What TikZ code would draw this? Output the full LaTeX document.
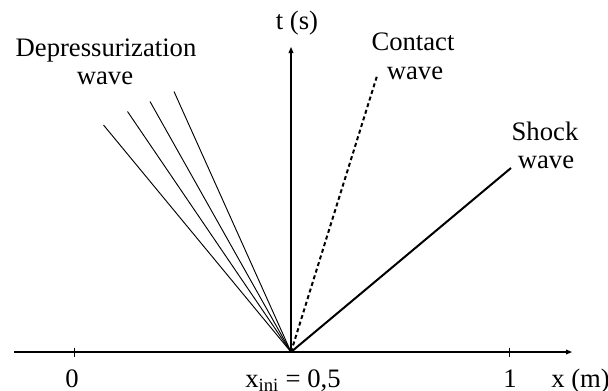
\documentclass[tikz,border=0pt]{standalone}
\usepackage{fontspec}
\setmainfont{Liberation Serif}
\usetikzlibrary{arrows.meta}
\begin{document}
\begin{tikzpicture}[x=0.75pt,y=-0.75pt,
  lbl/.style={font=\fontsize{20}{21}\selectfont, inner sep=0pt, anchor=base},
  axisline/.style={line width=0.8pt, -{Triangle[length=4.5pt,width=3.6pt]}},
  tick/.style={line width=1pt},
  fan/.style={line width=0.7pt},
  shockline/.style={line width=1.5pt},
  contactline/.style={line width=1.5pt, dash pattern=on 3pt off 2.2pt}]
\useasboundingbox (0,0) rectangle (608,390);
\coordinate (O) at (291,352);
\coordinate (xs) at (14,352);
\coordinate (xe) at (572,352);
\coordinate (te) at (291,47);
\coordinate (f1) at (103.5,125);
\coordinate (f2) at (127.5,111.5);
\coordinate (f3) at (150,101.5);
\coordinate (f4) at (174,91.5);
\coordinate (c1) at (377,76);
\coordinate (s1) at (511,168);
\coordinate (k0a) at (74.5,347.5);
\coordinate (k0b) at (74.5,357);
\coordinate (k1a) at (509.5,347.5);
\coordinate (k1b) at (509.5,357);
% axes
\draw[axisline] (xs) -- (xe);
\draw[axisline] (O) -- (te);
\draw[tick] (k0a) -- (k0b);
\draw[tick] (k1a) -- (k1b);
% waves
\draw[fan] (O) -- (f1);
\draw[fan] (O) -- (f2);
\draw[fan] (O) -- (f3);
\draw[fan] (O) -- (f4);
\draw[contactline] (O) -- (c1);
\draw[shockline] (O) -- (s1);
% labels
\node[lbl] (l0) at (72,387) {0};
\node[lbl] (l1) at (510,387) {1};
\node[lbl] (lxini) at (293,387) {x\textsubscript{ini} = 0,5};
\node[lbl, anchor=base west] (lx) at (551,387) {x (m)};
\node[lbl] (lt) at (297,29) {t (s)};
\node[lbl] (dep1) at (106,56) {Depressurization};
\node[lbl] (dep2) at (105,84) {wave};
\node[lbl] (con1) at (413,50) {Contact};
\node[lbl] (con2) at (415,79) {wave};
\node[lbl] (sh1) at (545,140) {Shock};
\node[lbl] (sh2) at (546,168) {wave};
\end{tikzpicture}
\end{document}
